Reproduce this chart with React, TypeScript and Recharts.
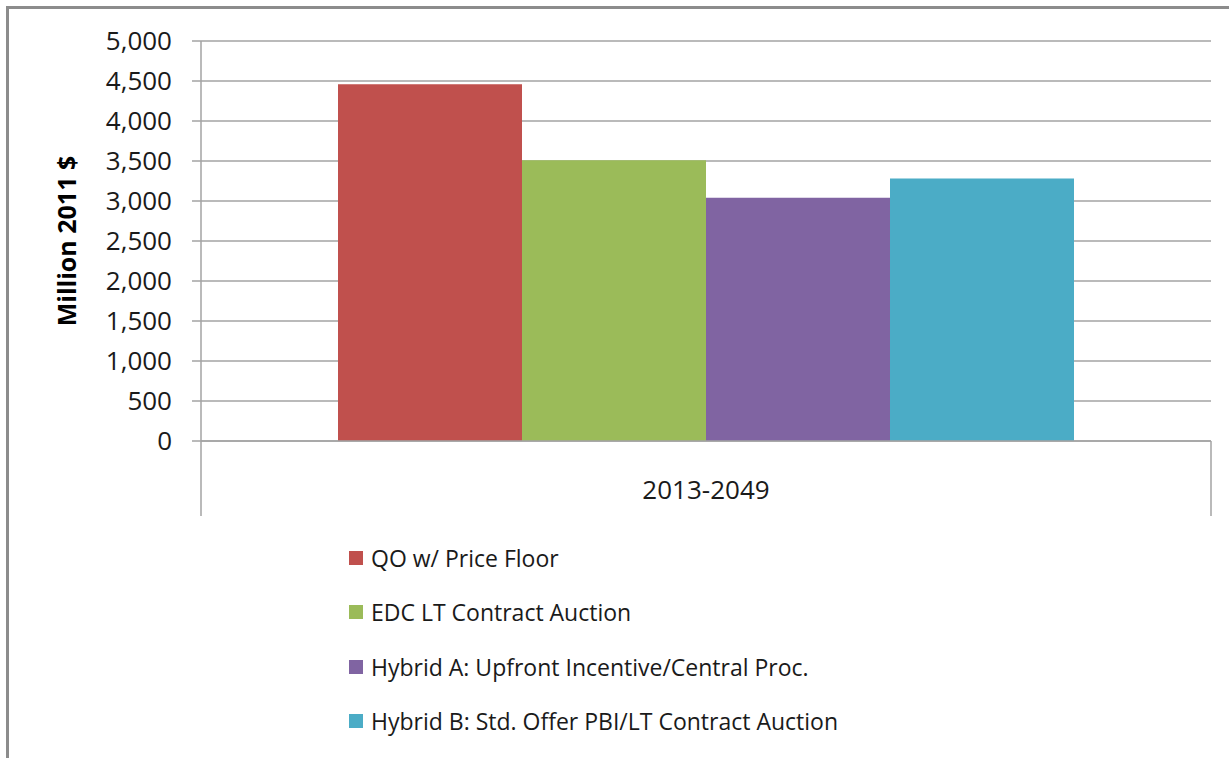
import React from 'react';
import { BarChart, Bar, XAxis, YAxis, CartesianGrid, Legend } from 'recharts';

const categories = ['2013-2049'];
const seriesNames = [
  'QO w/ Price Floor',
  'EDC LT Contract Auction',
  'Hybrid A: Upfront Incentive/Central Proc.',
  'Hybrid B: Std. Offer PBI/LT Contract Auction',
];
const seriesValues = [4460, 3510, 3040, 3280];
const seriesColors = ['#C0504D', '#9BBB59', '#8064A2', '#4BACC6'];
const yTicks = [0, 500, 1000, 1500, 2000, 2500, 3000, 3500, 4000, 4500, 5000];

const data = categories.map((c) => {
  const row: Record<string, any> = { period: c };
  seriesNames.forEach((n, i) => {
    row['s' + i] = seriesValues[i];
  });
  return row;
});

const FONT = '"Open Sans", sans-serif';
const GRID = '#a3a3a3';

const CategoryTick = (props: any) => {
  const { x, y, payload, width } = props;
  const half = (width || 0) / 2;
  return (
    <g>
      <line x1={x - half} y1={y} x2={x - half} y2={y + 75} stroke={GRID} strokeWidth={1.5} />
      <line x1={x + half} y1={y} x2={x + half} y2={y + 75} stroke={GRID} strokeWidth={1.5} />
      <text
        x={x}
        y={y + 48}
        textAnchor="middle"
        dominantBaseline="central"
        fontFamily={FONT}
        fontSize={26}
        fill="#1a1a1a"
      >
        {payload.value}
      </text>
    </g>
  );
};

const LegendContent = (props: any) => {
  const items = [...(props.payload || [])].sort(
    (a: any, b: any) => seriesNames.indexOf(a.value) - seriesNames.indexOf(b.value)
  );
  return (
    <div style={{ fontFamily: FONT }}>
      {items.map((p: any, i: number) => (
        <div key={i} style={{ height: 54.3, display: 'flex', alignItems: 'center' }}>
          <span
            style={{
              display: 'inline-block',
              width: 14,
              height: 14,
              background: p.color,
              marginRight: 8,
            }}
          />
          <span style={{ fontSize: 23, color: '#1a1a1a', whiteSpace: 'nowrap' }}>{p.value}</span>
        </div>
      ))}
    </div>
  );
};

const YLabel = (props: any) => {
  const { viewBox } = props;
  const cx = viewBox.x + 66;
  const cy = viewBox.y + viewBox.height / 2;
  return (
    <text
      x={cx}
      y={cy}
      transform={`rotate(-90, ${cx}, ${cy})`}
      textAnchor="middle"
      dominantBaseline="central"
      fontFamily={FONT}
      fontWeight="bold"
      fontSize={25}
      fill="#000"
    >
      Million 2011 $
    </text>
  );
};

export default function App() {
  return (
    <div style={{ position: 'fixed', left: 0, top: 0, width: 1229, height: 758, overflow: 'hidden', background: '#fff' }}>
      <style>{'html,body{margin:0;padding:0;overflow:hidden;background:#fff}'}</style>
      <div
        style={{
          position: 'absolute',
          left: 6,
          top: 6,
          width: 1300,
          height: 800,
          boxSizing: 'border-box',
          borderLeft: '3px solid #8c8c8c',
          borderTop: '3px solid #8c8c8c',
        }}
      />
      <div style={{ position: 'absolute', left: 0, top: 0 }}>
        <BarChart
          width={1229}
          height={758}
          data={data}
          margin={{ top: 41, right: 18, bottom: 25, left: 0 }}
          barGap={0}
          barCategoryGap={137}
        >
          <CartesianGrid vertical={false} stroke={GRID} strokeWidth={1.5} />
          <XAxis
            dataKey="period"
            height={75}
            tickLine={false}
            axisLine={{ stroke: GRID, strokeWidth: 1.5 }}
            tickSize={0}
            tickMargin={0}
            tick={<CategoryTick />}
            interval={0}
          />
          <YAxis
            width={201}
            domain={[0, 5000]}
            ticks={yTicks}
            interval={0}
            tickSize={9}
            tickMargin={20}
            tickLine={{ stroke: GRID, strokeWidth: 1.5 }}
            axisLine={{ stroke: GRID, strokeWidth: 1.5 }}
            tickFormatter={(v: number) => v.toLocaleString('en-US')}
            tick={{ fontFamily: FONT, fontSize: 26, fill: '#1a1a1a' }}
            label={<YLabel />}
          />
          <Legend
            layout="vertical"
            verticalAlign="bottom"
            align="center"
            content={<LegendContent />}
            wrapperStyle={{ left: 349, top: 531, bottom: 'auto', width: 'auto', height: 217 }}
          />
          {seriesNames.map((n, i) => (
            <Bar key={n} dataKey={'s' + i} name={n} fill={seriesColors[i]} isAnimationActive={false} />
          ))}
        </BarChart>
      </div>
    </div>
  );
}
